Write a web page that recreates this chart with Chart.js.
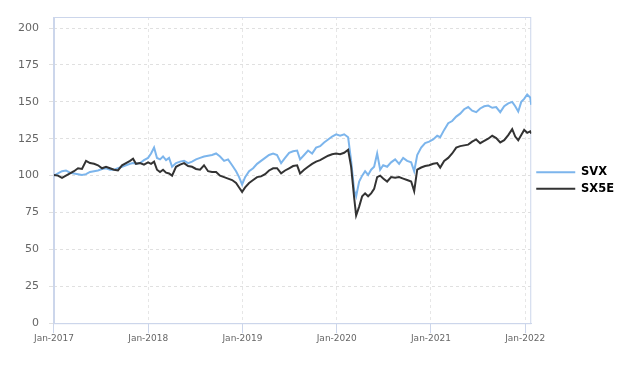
<!DOCTYPE html>
<html>
<head>
<meta charset="utf-8">
<script src="https://cdn.jsdelivr.net/npm/chart.js@4.4.1/dist/chart.umd.min.js"></script>
<style>
  body { margin: 0; background: #fff; }
  #wrap { width: 632px; height: 367px; }
</style>
</head>
<body>
<div id="wrap"><canvas id="perfChart"></canvas></div>
<script>
// time axis in decimal years (Jan-2017 = 2017.0)
const dates = [
  2017.000, 2017.042, 2017.085, 2017.127, 2017.170, 2017.212, 2017.255, 2017.297, 2017.340, 2017.382,
  2017.425, 2017.467, 2017.510, 2017.552, 2017.594, 2017.637, 2017.679, 2017.722, 2017.764, 2017.807,
  2017.839, 2017.870, 2017.913, 2017.955, 2017.998, 2018.030, 2018.062, 2018.093, 2018.125, 2018.157,
  2018.189, 2018.221, 2018.253, 2018.295, 2018.338, 2018.380, 2018.423, 2018.465, 2018.507, 2018.550,
  2018.592, 2018.635, 2018.677, 2018.720, 2018.762, 2018.805, 2018.847, 2018.890, 2018.932, 2018.964,
  2018.996, 2019.028, 2019.070, 2019.113, 2019.155, 2019.197, 2019.240, 2019.282, 2019.325, 2019.367,
  2019.410, 2019.452, 2019.495, 2019.537, 2019.580, 2019.611, 2019.654, 2019.696, 2019.739, 2019.781,
  2019.824, 2019.866, 2019.909, 2019.951, 2019.994, 2020.036, 2020.079, 2020.121, 2020.153, 2020.185,
  2020.206, 2020.238, 2020.270, 2020.301, 2020.333, 2020.365, 2020.397, 2020.429, 2020.461, 2020.493,
  2020.535, 2020.577, 2020.620, 2020.662, 2020.705, 2020.747, 2020.790, 2020.822, 2020.854, 2020.896,
  2020.938, 2020.981, 2021.023, 2021.066, 2021.098, 2021.140, 2021.183, 2021.225, 2021.268, 2021.310,
  2021.352, 2021.395, 2021.437, 2021.480, 2021.522, 2021.565, 2021.607, 2021.650, 2021.692, 2021.735,
  2021.777, 2021.820, 2021.862, 2021.894, 2021.926, 2021.958, 2021.989, 2022.021, 2022.053, 2022.064
];

const svx = [
  100, 101.5, 103, 103.5, 102, 101.5, 101, 100.5, 101, 102.5,
  103, 103.5, 104.5, 105, 104, 104, 105, 106, 107, 108,
  108.5, 108, 108.5, 110.5, 112, 115, 119, 112, 111, 113,
  110.5, 112, 106, 108.5, 109.5, 110, 108.5, 109.5, 111, 112,
  113, 113.5, 114, 115, 113, 110, 111, 107, 103, 99,
  94, 99, 103, 105, 108, 110, 112, 114, 115, 114,
  108.5, 112, 115.5, 116.5, 117, 111, 114, 117, 115, 119,
  120, 122.5, 124.5, 126.5, 128, 127, 128, 126, 110, 90,
  86, 96, 100, 103, 100.5, 104, 106, 115, 104, 107,
  106, 109, 111, 108, 112, 110, 109, 103, 114, 119,
  122, 123, 124.5, 127, 126, 131, 135.5, 137, 140, 142,
  145, 146.5, 144, 143, 145.5, 147, 147.5, 146, 146.5, 143,
  147, 149, 150, 147, 143.5, 150, 152, 155, 153, 148
];

const sx5e = [
  100.5, 100, 98.5, 100, 101.5, 103, 105, 104.5, 110, 108.5,
  108, 107, 105, 106, 105, 104, 103.5, 107, 108.5, 110,
  111.5, 108, 108.5, 107.5, 109, 108, 109.5, 104, 102.5, 104,
  102, 101.5, 100, 106, 107.5, 108.5, 106.5, 106, 104.5, 104,
  107, 103, 102.5, 102.5, 100, 99, 98, 97, 95, 92,
  89, 92, 95, 97, 99, 99.5, 101, 103.5, 105, 105,
  101.5, 103.5, 105, 106.5, 107, 101.5, 104, 106, 108, 109.5,
  110.5, 112, 113.5, 114.5, 115, 114.5, 115.5, 117.5, 106, 85,
  73, 79, 86, 88, 86, 88, 91, 99, 100, 98,
  96, 99, 98.5, 99, 98, 97, 96, 89.5, 104, 105.5,
  106.5, 107, 108, 108.5, 105.5, 110, 112, 115, 119, 120,
  120.5, 121, 123, 124.5, 122, 123.5, 125, 127, 125.5, 122.5,
  124, 127.5, 131.5, 126.5, 124, 127.5, 131, 129, 130, 128.5
];

const seriesNames = ["SVX", "SX5E"];
const seriesColors = ["#7cb5ec", "#333333"];
const tickYears = [2017, 2018, 2019, 2020, 2021, 2022];
const yTicks = [0, 25, 50, 75, 100, 125, 150, 175, 200];

const toPoints = (vals) => vals.map((v, i) => ({ x: dates[i], y: v }));

// frame around the plot area
const frame = {
  id: "frame",
  beforeDatasetsDraw(chart) {
    const a = chart.chartArea;
    const ctx = chart.ctx;
    ctx.save();
    ctx.strokeStyle = "#ccd6eb";
    ctx.lineWidth = 1;
    ctx.strokeRect(a.left + 0.5, a.top + 0.5, a.right - a.left - 1, a.bottom - a.top);
    ctx.restore();
  }
};

const ctx = document.getElementById("perfChart").getContext("2d");
new Chart(ctx, {
  type: "line",
  data: {
    datasets: [
      {
        label: seriesNames[0],
        data: toPoints(svx),
        borderColor: seriesColors[0],
        backgroundColor: seriesColors[0],
        borderWidth: 2,
        pointRadius: 0,
        tension: 0,
        fill: false,
        order: 2
      },
      {
        label: seriesNames[1],
        data: toPoints(sx5e),
        borderColor: seriesColors[1],
        backgroundColor: seriesColors[1],
        borderWidth: 2,
        pointRadius: 0,
        tension: 0,
        fill: false,
        order: 1
      }
    ]
  },
  options: {
    responsive: true,
    maintainAspectRatio: false,
    animation: false,
    layout: { padding: { left: 8, top: 17, right: 8, bottom: 23 } },
    plugins: {
      tooltip: { enabled: false },
      legend: {
        position: "right",
        labels: {
          boxWidth: 39,
          boxHeight: 2,
          padding: 5,
          color: "#333333",
          font: { family: "DejaVu Sans", size: 11.5, weight: "bold" },
          generateLabels: (chart) =>
            chart.data.datasets.map((ds, i) => ({
              text: ds.label,
              fillStyle: ds.borderColor,
              strokeStyle: ds.borderColor,
              lineWidth: 0,
              datasetIndex: i,
              hidden: false
            }))
        }
      }
    },
    scales: {
      x: {
        type: "linear",
        min: dates[0],
        max: dates[dates.length - 1],
        afterBuildTicks: (axis) => {
          axis.ticks = tickYears.map((v) => ({ value: v }));
        },
        ticks: {
          autoSkip: false,
          maxRotation: 0,
          padding: 0,
          color: "#666666",
          font: { family: "DejaVu Sans", size: 9 },
          callback: (v) => "Jan-" + v
        },
        grid: {
          color: "#e6e6e6",
          tickColor: "#ccd6eb",
          tickLength: 10
        },
        border: { color: "#ccd6eb", dash: [3, 3] }
      },
      y: {
        min: 0,
        max: 207.5,
        afterBuildTicks: (axis) => {
          axis.ticks = yTicks.map((v) => ({ value: v }));
        },
        ticks: {
          padding: 10,
          color: "#666666",
          font: { family: "DejaVu Sans", size: 11 }
        },
        grid: {
          color: "#e0e0e0",
          tickLength: 5
        },
        border: { color: "#ccd6eb", dash: [3, 3] }
      }
    }
  },
  plugins: [frame]
});
</script>
</body>
</html>
